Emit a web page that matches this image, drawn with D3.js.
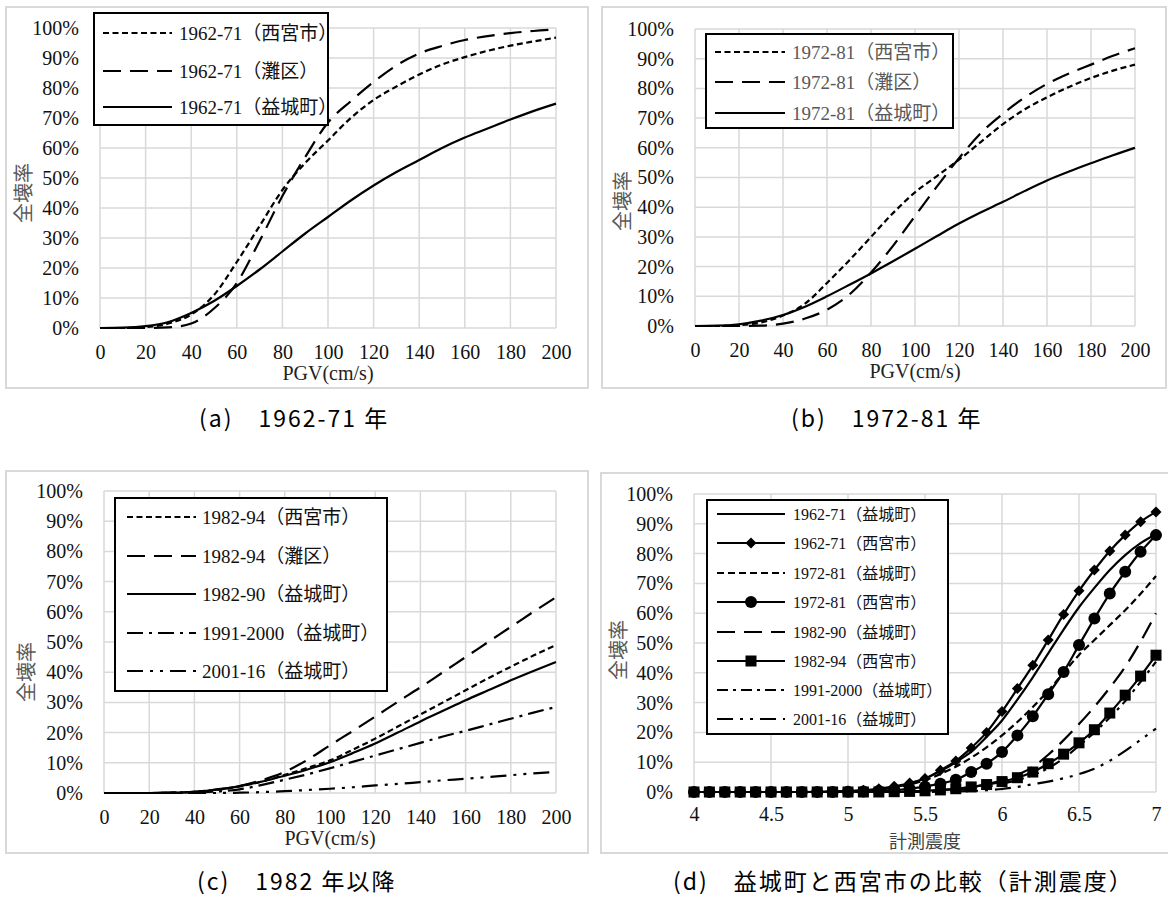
<!DOCTYPE html>
<html>
<head>
<meta charset="utf-8">
<script src="https://cdn.jsdelivr.net/npm/d3@7"></script>
<style>
  body { margin: 0; background: #fff; }
</style>
</head>
<body>
<svg id="fig" width="1168" height="899"></svg>
<script>
const SERIF = "'Liberation Serif', 'Noto Sans CJK JP', serif";
const GOTHIC = "'Noto Sans CJK JP', sans-serif";

// x values
const pgv = [0, 10, 20, 30, 40, 50, 60, 70, 80, 90, 100, 110, 120, 130, 140, 150, 160, 170, 180, 190, 200];
const shindo = [4.0, 4.1, 4.2, 4.3, 4.4, 4.5, 4.6, 4.7, 4.8, 4.9, 5.0, 5.1, 5.2, 5.3, 5.4, 5.5, 5.6, 5.7, 5.8, 5.9,
                6.0, 6.1, 6.2, 6.3, 6.4, 6.5, 6.6, 6.7, 6.8, 6.9, 7.0];
const pgvTicks = [0, 20, 40, 60, 80, 100, 120, 140, 160, 180, 200];
const shindoTicks = [4, 4.5, 5, 5.5, 6, 6.5, 7];
const pctTicks = [0, 10, 20, 30, 40, 50, 60, 70, 80, 90, 100];

// (a) 1962-71, % collapsed
const a_nishinomiya = [0, 0, 0.3, 1.5, 4.5, 11, 22, 34, 46, 55, 62.5, 70, 76, 80.5, 84.5, 87.8, 90.3, 92.4, 94.1, 95.5, 96.8];
const a_nada        = [0, 0, 0, 0.2, 1.5, 6.5, 15, 29, 44, 57, 68.5, 75.6, 82, 87.5, 91.5, 94, 96, 97.3, 98.3, 99, 99.5];
const a_mashiki     = [0, 0.1, 0.6, 2, 5, 9, 14, 19.5, 25.5, 31.5, 37, 42.5, 47.5, 52, 56, 60, 63.5, 66.5, 69.5, 72.3, 74.8];

// (b) 1972-81
const b_nishinomiya = [0, 0, 0.3, 1.2, 3.5, 7.5, 14.5, 22, 30, 38, 45, 50.5, 56, 62, 68, 73, 77, 80.5, 83.5, 86, 88];
const b_nada        = [0, 0, 0, 0.1, 0.8, 2.5, 5.5, 10.5, 18, 27, 37, 47, 56.5, 65, 71.5, 77, 81.5, 85, 88, 91, 93.5];
const b_mashiki     = [0, 0.1, 0.6, 1.8, 3.7, 6.5, 10, 13.8, 17.7, 21.8, 26, 30.3, 34.5, 38.3, 41.8, 45.5, 49, 52, 54.8, 57.5, 60];

// (c) 1982-
const c_nishinomiya = [0, 0, 0, 0.1, 0.4, 1.1, 2.2, 3.8, 6, 8.3, 10.8, 14.3, 18, 22, 26, 30, 34, 38, 41.8, 45.5, 49];
const c_nada        = [0, 0, 0, 0.1, 0.4, 1.2, 2.3, 4.3, 7, 11, 15.8, 20.5, 25.3, 30.2, 35, 40, 45, 50, 55, 60, 64.8];
const c_mashiki8290 = [0, 0, 0, 0.1, 0.4, 1.1, 2.3, 3.8, 5.7, 7.8, 10.2, 13.2, 16.4, 20, 23.7, 27.2, 30.7, 34, 37.3, 40.4, 43.4];
const c_mashiki9100 = [0, 0, 0, 0, 0.1, 0.5, 1.2, 2.7, 4.4, 6.2, 8.2, 10.3, 12.4, 14.5, 16.6, 18.7, 20.6, 22.6, 24.6, 26.6, 28.5];
const c_mashiki0116 = [0, 0, 0, 0, 0, 0, 0.1, 0.3, 0.6, 1, 1.4, 1.9, 2.5, 3, 3.6, 4.2, 4.7, 5.3, 5.9, 6.5, 7];

// (d) vs instrumental intensity
const d_mashiki6271 = [0, 0, 0, 0, 0, 0, 0, 0, 0, 0.1, 0.2, 0.5, 0.9, 1.6, 2.8, 4.5, 7, 10, 13.5, 18.5,
                       24, 31, 38.5, 46.5, 54.5, 62, 68.5, 74.5, 79.5, 83.5, 86.5];
const d_nishi6271   = [0, 0, 0, 0, 0, 0, 0, 0, 0.1, 0.2, 0.3, 0.6, 1.1, 1.9, 3.0, 4.5, 7.3, 10.4, 14.8, 20,
                       27, 34.7, 42.5, 51, 59.6, 67.5, 74.5, 80.9, 86.2, 90.7, 94];
const d_mashiki7281 = [0, 0, 0, 0, 0, 0, 0, 0, 0, 0.1, 0.2, 0.4, 0.8, 1.5, 2.5, 4, 6, 8.5, 11.5, 15,
                       19, 23.5, 28.5, 34, 40, 46, 51, 56, 61, 66.5, 72.5];
const d_nishi7281   = [0, 0, 0, 0, 0, 0, 0, 0, 0, 0, 0.1, 0.15, 0.3, 0.6, 1.1, 1.8, 2.8, 4.1, 6.7, 9.5,
                       13.4, 19, 25.4, 32.8, 40.3, 49.3, 58.2, 66.6, 73.9, 80.6, 86.2];
const d_mashiki8290 = [0, 0, 0, 0, 0, 0, 0, 0, 0, 0, 0, 0, 0.05, 0.1, 0.2, 0.3, 0.6, 1, 1.6, 2.6,
                       3.9, 5.8, 8.4, 12.5, 17.4, 22.8, 28.6, 35, 42, 50.5, 60];
const d_nishi8294   = [0, 0, 0, 0, 0, 0, 0, 0, 0, 0, 0, 0, 0, 0.1, 0.2, 0.4, 0.7, 1.1, 1.7, 2.5,
                       3.5, 4.8, 6.7, 9.5, 12.7, 16.5, 20.9, 26.5, 32.5, 38.9, 45.9];
const d_mashiki9100 = [0, 0, 0, 0, 0, 0, 0, 0, 0, 0, 0, 0, 0, 0, 0.1, 0.2, 0.4, 0.7, 1.1, 1.8,
                       2.8, 4, 5.7, 8, 11.3, 15.5, 20, 25, 30.5, 37, 43.7];
const d_mashiki0116 = [0, 0, 0, 0, 0, 0, 0, 0, 0, 0, 0, 0, 0, 0, 0, 0.05, 0.1, 0.2, 0.3, 0.6,
                       1, 1.7, 2.6, 3.5, 4.6, 6, 7.8, 10.5, 13.8, 17.5, 21.3];

const SHORT = "6,3.5", LONG = "18,9", DASHDOT = "16,6,3,6", DASHDOTDOT = "16,7,3,7,3,7";

const panels = [
  {
    box: [6, 7, 588, 388], px: [100, 556], py: [328, 28],
    xDomain: [0, 200], xTicks: pgvTicks, tickPad: 17, xTitle: "PGV(cm/s)", xFont: SERIF, xTitleDy: 52, yTitle: [24, 193],
    legend: { box: [94, 13, 328, 125], rows: [33, 71, 107], sx: [103, 172], tx: 179, size: 19, color: "#111" },
    caption: "(a)\u30001962-71 年", capX: 199, capY: 427,
    series: [
      { label: "1962-71（西宮市）", x: pgv, y: a_nishinomiya, dash: SHORT },
      { label: "1962-71（灘区）", x: pgv, y: a_nada, dash: LONG },
      { label: "1962-71（益城町）", x: pgv, y: a_mashiki, dash: null }
    ]
  },
  {
    box: [602, 7, 1166, 388], px: [695, 1135], py: [326, 29],
    xDomain: [0, 200], xTicks: pgvTicks, tickPad: 17, xTitle: "PGV(cm/s)", xFont: SERIF, xTitleDy: 52, yTitle: [623, 201],
    legend: { box: [706, 34, 953, 128], rows: [52, 82, 113], sx: [715, 785], tx: 792, size: 19, color: "#595959" },
    caption: "(b)\u30001972-81 年", capX: 791, capY: 427,
    series: [
      { label: "1972-81（西宮市）", x: pgv, y: b_nishinomiya, dash: SHORT },
      { label: "1972-81（灘区）", x: pgv, y: b_nada, dash: LONG },
      { label: "1972-81（益城町）", x: pgv, y: b_mashiki, dash: null }
    ]
  },
  {
    box: [6, 471, 588, 853], px: [104, 556], py: [793, 491],
    xDomain: [0, 200], xTicks: pgvTicks, tickPad: 17, xTitle: "PGV(cm/s)", xFont: SERIF, xTitleDy: 52, yTitle: [27, 672],
    legend: { box: [115, 498, 387, 691], rows: [517, 556, 594, 633, 671], sx: [127, 196], tx: 202, size: 19, color: "#111" },
    caption: "(c)\u30001982 年以降", capX: 197, capY: 890,
    series: [
      { label: "1982-94（西宮市）", x: pgv, y: c_nishinomiya, dash: SHORT },
      { label: "1982-94（灘区）", x: pgv, y: c_nada, dash: LONG },
      { label: "1982-90（益城町）", x: pgv, y: c_mashiki8290, dash: null },
      { label: "1991-2000（益城町）", x: pgv, y: c_mashiki9100, dash: DASHDOT },
      { label: "2001-16（益城町）", x: pgv, y: c_mashiki0116, dash: DASHDOTDOT }
    ]
  },
  {
    box: [601, 473, 1180, 853], px: [694, 1156], py: [792, 494],
    xDomain: [4, 7], xTicks: shindoTicks, tickPad: 15, xTitle: "計測震度", xFont: GOTHIC, xTitleDy: 56, yTitle: [619, 650],
    legend: { box: [707, 500, 948, 734], rows: [514, 543, 573, 602, 632, 661, 690, 719], sx: [717, 785], tx: 793, size: 16, color: "#111" },
    caption: "(d)\u3000益城町と西宮市の比較（計測震度）", capX: 673, capY: 890,
    series: [
      { label: "1962-71（益城町）", x: shindo, y: d_mashiki6271, dash: null },
      { label: "1962-71（西宮市）", x: shindo, y: d_nishi6271, dash: null, marker: "diamond" },
      { label: "1972-81（益城町）", x: shindo, y: d_mashiki7281, dash: "7,4" },
      { label: "1972-81（西宮市）", x: shindo, y: d_nishi7281, dash: null, marker: "circle" },
      { label: "1982-90（益城町）", x: shindo, y: d_mashiki8290, dash: LONG },
      { label: "1982-94（西宮市）", x: shindo, y: d_nishi8294, dash: null, marker: "square" },
      { label: "1991-2000（益城町）", x: shindo, y: d_mashiki9100, dash: "11,5,3,5" },
      { label: "2001-16（益城町）", x: shindo, y: d_mashiki0116, dash: DASHDOTDOT }
    ]
  }
];

const svg = d3.select("#fig");
svg.append("rect").attr("width", 1168).attr("height", 899).attr("fill", "#fff");

function drawMarker(g, type, cx, cy) {
  if (type === "circle") {
    g.append("circle").attr("cx", cx).attr("cy", cy).attr("r", 6).attr("fill", "#000");
  } else if (type === "square") {
    g.append("rect").attr("x", cx - 5.5).attr("y", cy - 5.5).attr("width", 11).attr("height", 11).attr("fill", "#000");
  } else if (type === "diamond") {
    g.append("path").attr("d", `M${cx},${cy - 5.5}L${cx + 5.5},${cy}L${cx},${cy + 5.5}L${cx - 5.5},${cy}Z`).attr("fill", "#000");
  }
}

panels.forEach(p => {
  const g = svg.append("g");
  const [bx0, by0, bx1, by1] = p.box;
  // chart frame
  g.append("rect").attr("x", bx0).attr("y", by0).attr("width", bx1 - bx0).attr("height", by1 - by0)
    .attr("fill", "#fff").attr("stroke", "#d9d9d9").attr("stroke-width", 2);

  const x = d3.scaleLinear().domain(p.xDomain).range(p.px);
  const y = d3.scaleLinear().domain([0, 100]).range(p.py);

  // gridlines
  g.append("g").selectAll("line").data(pctTicks).join("line")
    .attr("x1", p.px[0]).attr("x2", p.px[1]).attr("y1", d => y(d)).attr("y2", d => y(d))
    .attr("stroke", "#d9d9d9").attr("stroke-width", 1.5);
  g.append("g").selectAll("line").data(p.xTicks).join("line")
    .attr("x1", d => x(d)).attr("x2", d => x(d)).attr("y1", p.py[0]).attr("y2", p.py[1])
    .attr("stroke", "#d9d9d9").attr("stroke-width", 1.5);

  // axes (labels only)
  const ya = g.append("g").attr("transform", `translate(${p.px[0]},0)`)
    .call(d3.axisLeft(y).tickValues(pctTicks).tickFormat(d => d + "%").tickSize(0).tickPadding(21));
  const xa = g.append("g").attr("transform", `translate(0,${p.py[0]})`)
    .call(d3.axisBottom(x).tickValues(p.xTicks).tickFormat(d => String(d)).tickSize(0).tickPadding(p.tickPad));
  [ya, xa].forEach(a => {
    a.attr("font-size", 20);
    a.select(".domain").remove();
    a.selectAll("text").style("font-family", SERIF).attr("fill", "#111");
  });

  // axis titles
  g.append("text").attr("x", (p.px[0] + p.px[1]) / 2).attr("y", p.py[0] + p.xTitleDy)
    .attr("text-anchor", "middle").attr("font-size", p.xFont === GOTHIC ? 18 : 20).style("font-family", p.xFont)
    .attr("fill", p.xFont === GOTHIC ? "#404040" : "#222").text(p.xTitle);
  g.append("text").attr("transform", `translate(${p.yTitle[0]},${p.yTitle[1]}) rotate(-90)`)
    .attr("text-anchor", "middle").attr("dy", "0.35em").attr("font-size", 20)
    .style("font-family", GOTHIC).attr("fill", "#595959").text("全壊率");

  // curves
  const line = d3.line().curve(d3.curveMonotoneX);
  p.series.forEach(s => {
    const pts = s.x.map((v, i) => [x(v), y(s.y[i])]);
    g.append("path").attr("d", line(pts)).attr("fill", "none").attr("stroke", "#000")
      .attr("stroke-width", 2.2).attr("stroke-dasharray", s.dash);
    if (s.marker) pts.forEach(pt => drawMarker(g, s.marker, pt[0], pt[1]));
  });

  // legend
  const L = p.legend;
  g.append("rect").attr("x", L.box[0]).attr("y", L.box[1]).attr("width", L.box[2] - L.box[0])
    .attr("height", L.box[3] - L.box[1]).attr("fill", "#fff").attr("stroke", "#000").attr("stroke-width", 2);
  p.series.forEach((s, i) => {
    const ry = L.rows[i];
    g.append("line").attr("x1", L.sx[0]).attr("x2", L.sx[1]).attr("y1", ry).attr("y2", ry)
      .attr("stroke", "#000").attr("stroke-width", 2.2).attr("stroke-dasharray", s.dash);
    if (s.marker) drawMarker(g, s.marker, (L.sx[0] + L.sx[1]) / 2, ry);
    g.append("text").attr("x", L.tx).attr("y", ry).attr("dy", "0.35em")
      .attr("font-size", L.size).style("font-family", SERIF).attr("fill", L.color).text(s.label);
  });

  // caption
  svg.append("text").attr("x", p.capX).attr("y", p.capY)
    .attr("font-size", 23).attr("letter-spacing", 2).style("font-family", GOTHIC)
    .attr("fill", "#000").text(p.caption);
});
</script>
</body>
</html>
